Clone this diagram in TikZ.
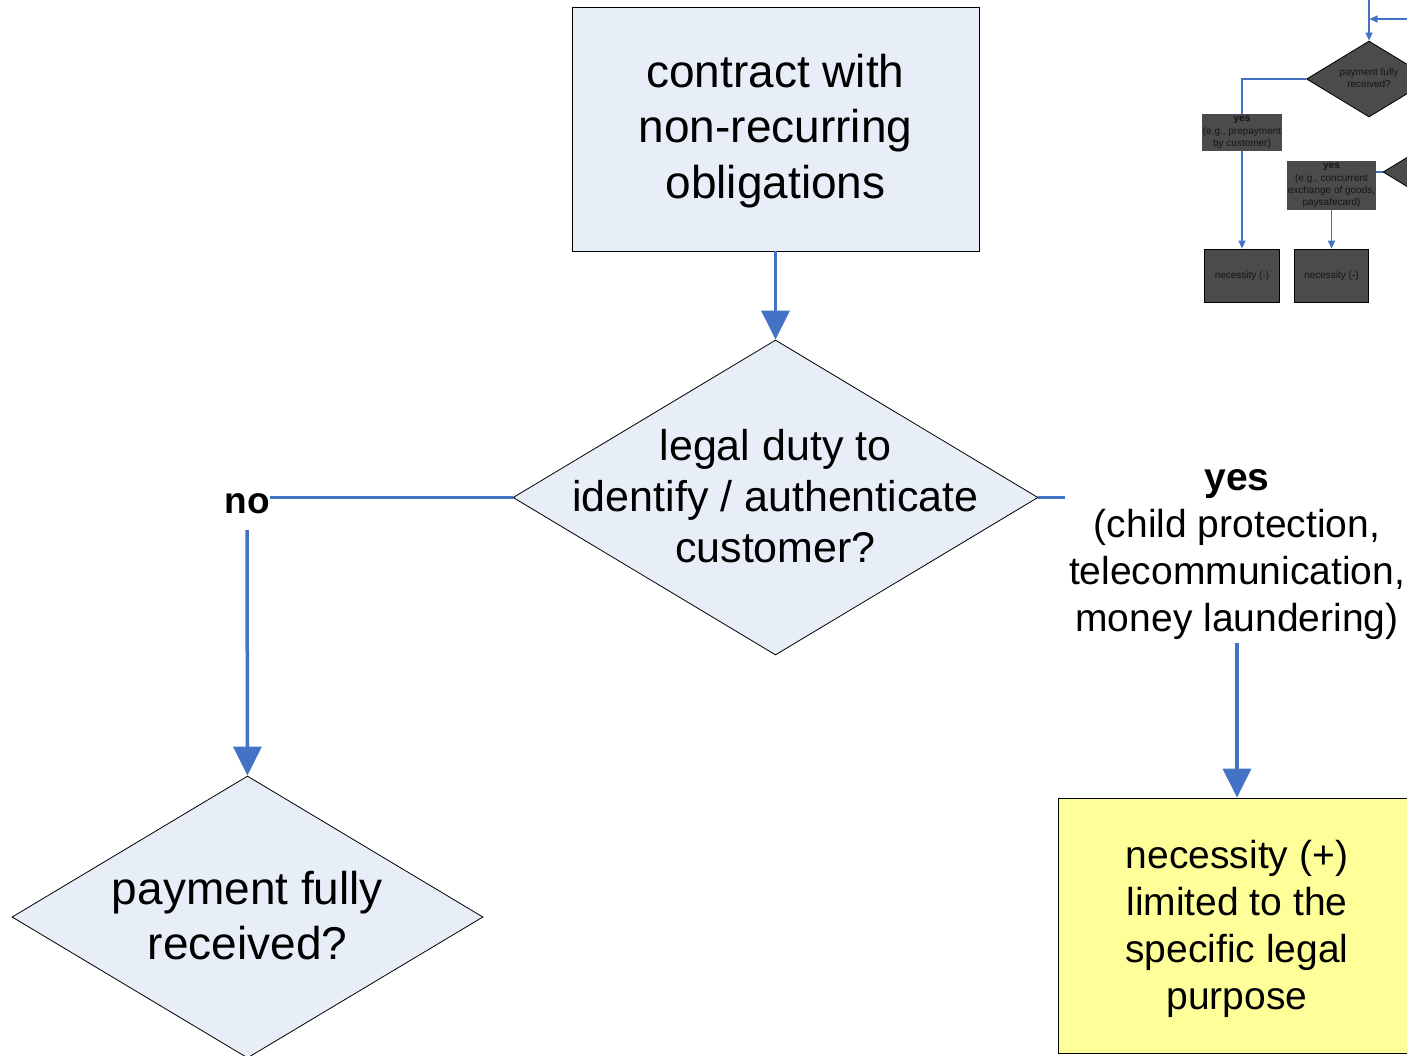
\documentclass[tikz,border=0pt]{standalone}
\usepackage{fontspec}
\setmainfont{Liberation Sans}
\usetikzlibrary{shapes.geometric,arrows.meta}
\definecolor{paleblue}{HTML}{E8EEF8}
\definecolor{flowblue}{HTML}{4472C4}
\definecolor{notepad}{HTML}{FFFF99}
\definecolor{darkfill}{HTML}{4B4B4B}
\definecolor{inktext}{HTML}{151515}

\begin{document}
\begin{tikzpicture}[x=1pt,y=-1pt,
  bigfont/.style={font=\fontsize{46}{55.5}\selectfont},
  midfont/.style={font=\fontsize{43}{51}\selectfont},
  notefont/.style={font=\fontsize{39}{47}\selectfont},
  tinyfont/.style={font=\fontsize{10}{12.3}\selectfont},
  txt/.style={align=center,inner sep=0pt,text=black},
  box/.style={draw=black,line width=0.8pt,fill=paleblue,inner sep=0pt,align=center},
  dia/.style={diamond,draw=black,line width=0.8pt,fill=paleblue,inner sep=0pt},
  notebox/.style={draw=black,line width=0.8pt,fill=notepad,inner sep=0pt,align=center},
  flow/.style={draw=flowblue,line width=3.5pt},
  flowarr/.style={flow,-{Triangle[width=28pt,length=29pt]}},
  smflow/.style={draw=flowblue,line width=1.3pt},
  smarr/.style={smflow,-{Triangle[width=7pt,length=8pt]}},
  smdia/.style={diamond,draw=black,line width=0.8pt,fill=darkfill,inner sep=0pt},
  smbox/.style={draw=black,line width=0.8pt,fill=darkfill,inner sep=0pt,align=center,text=inktext,tinyfont},
  smlabel/.style={fill=darkfill,inner sep=0pt,align=center,text=inktext,tinyfont}
]
\useasboundingbox (0,0) rectangle (1407,1055);
\clip (0,0) rectangle (1407,1055);

% main flow: contract and legal duty question
\node[box,minimum width=407,minimum height=244] (contract) at (775.5,129) {};
\node[txt,bigfont] (contracttext) at (775.5,131)
  {contract with\\non-recurring\\obligations};
\node[dia,minimum width=525,minimum height=315] (duty) at (775.5,497.5) {};
\node[txt,midfont] (dutytext) at (775.5,496) {legal duty to\\identify / authenticate\\customer?};
\draw[flowarr] (contract) -- (duty);

% "no" branch
\node[txt,font=\bfseries\fontsize{37}{44}\selectfont] (no) at (247,504) {no};
\coordinate (noend) at (270,497.5);
\draw[flow] (duty.west) -- (noend);
\node[dia,minimum width=471,minimum height=282] (payment) at (247.5,917) {};
\node[txt,bigfont] (paymenttext) at (247.5,915.5) {payment fully\\received?};
\coordinate (nostart) at (247,530);
\draw[flowarr] (nostart) -- (payment.north);

% "yes" branch
\coordinate (yesend) at (1065,497.5);
\draw[flow] (duty.east) -- (yesend);
\node[txt,notefont] (yes) at (1237,555)
  {{\bfseries yes}\\(child protection,\\telecommunication,\\money laundering)};
\node[notebox,minimum width=358,minimum height=255] (necessity) at (1237,925.5) {};
\node[txt,notefont] (necessitytext) at (1237,928.5)
  {necessity (+)\\limited to the\\specific legal\\purpose};
\coordinate (yesstart) at (1237,643);
\draw[flowarr] (yesstart) -- (necessity.north);

% small dark sub-flow in the corner
\node[smdia,minimum width=125,minimum height=76] (pay2) at (1369,79) {};
\node[txt,tinyfont,text=inktext] (pay2text) at (1369,78) {payment fully\\received?};
\coordinate (topin) at (1369,0);
\coordinate (sidein) at (1407,19);
\coordinate (join) at (1369.5,19);
\draw[smarr] (topin) -- (pay2.north);
\draw[smarr] (sidein) -- (join);

\node[smlabel,minimum width=80,minimum height=37] (prepay) at (1242,132.5)
  {\textbf{yes}\\(e.g., prepayment\\by customer)};
\node[smbox,minimum width=75,minimum height=53] (nec1) at (1242,275.5) {necessity (-)};
\draw[smflow] (pay2.west) -| (prepay.north);
\draw[smarr] (prepay.south) -- (nec1.north);

\node[smdia,minimum width=125,minimum height=76] (other) at (1445.5,172) {};
\node[smlabel,minimum width=89,minimum height=49] (concurrent) at (1331.5,185.5)
  {\textbf{yes}\\(e.g., concurrent\\exchange of goods,\\paysafecard)};
\node[smbox,minimum width=74,minimum height=53] (nec2) at (1331.5,275.5) {necessity (-)};
\draw[smflow] (other.west) -- (concurrent.east |- other.west);
\draw[smarr] (concurrent.south) -- (nec2.north);
\end{tikzpicture}
\end{document}
